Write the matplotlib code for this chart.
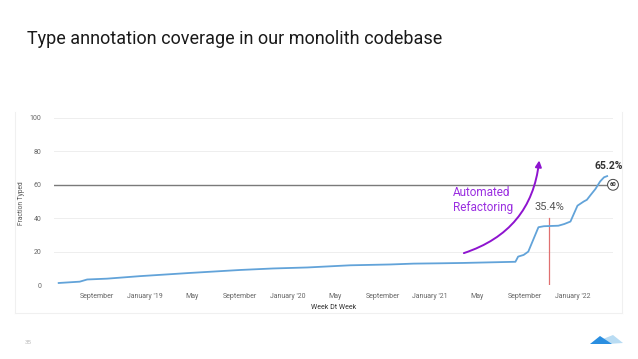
import matplotlib
matplotlib.use("Agg")
import matplotlib.pyplot as plt
import pandas as pd
from matplotlib.patches import Polygon
from matplotlib.lines import Line2D

plt.rcParams['font.family'] = ['Roboto', 'DejaVu Sans']

# ---- data ----
dates = ["2018-05-25", "2018-07-18", "2018-08-06", "2018-09-26", "2018-12-19",
         "2019-04-25", "2019-09-02", "2019-11-25", "2020-02-21", "2020-06-10",
         "2020-09-21", "2020-11-19", "2021-01-28", "2021-03-25", "2021-08-07",
         "2021-08-14", "2021-08-28", "2021-09-09", "2021-10-05", "2021-10-19",
         "2021-11-25", "2021-12-10", "2021-12-26", "2022-01-13", "2022-01-29",
         "2022-02-06", "2022-02-16", "2022-02-28", "2022-03-12", "2022-03-22",
         "2022-03-30"]
fraction = [1.2, 2.0, 3.3, 3.8, 5.3,
            7.2, 9.0, 9.9, 10.5, 11.8,
            12.3, 12.8, 13.0, 13.2, 13.9,
            17.0, 18.0, 20.0, 34.6, 35.2,
            35.5, 36.5, 38.0, 47.5, 50.0,
            51.0, 54.0, 57.5, 62.0, 64.5,
            65.2]
tick_dates = ["2018-09-01", "2019-01-01", "2019-05-01", "2019-09-01", "2020-01-01",
              "2020-05-01", "2020-09-01", "2021-01-01", "2021-05-01", "2021-09-01",
              "2022-01-01"]
tick_labels = ["September", "January '19", "May", "September", "January '20",
               "May", "September", "January '21", "May", "September", "January '22"]
y_ticks = [0, 20, 40, 60, 80, 100]
goal = 60
marker_date = "2021-11-01"
marker_value = 35.4
marker_height = 40
final_value = 65.2

W, H = 638, 359
fig = plt.figure(figsize=(W / 100, H / 100), dpi=100)
fig.patch.set_facecolor('white')

def fx(px):
    return px / W

def fy(py):
    return 1 - py / H

# chart frame (faint)
for seg in [((15, 15), (112, 313)), ((622, 622), (112, 313)), ((15, 622), (313, 313))]:
    fig.add_artist(Line2D([fx(seg[0][0]), fx(seg[0][1])], [fy(seg[1][0]), fy(seg[1][1])],
                          color='#f0f0f0', lw=0.8))

ax = fig.add_axes([fx(54), fy(285), fx(613) - fx(54), (285 - 118) / H])
d = pd.to_datetime(dates)
ax.plot(d, fraction, color='#62a3d9', lw=1.3, zorder=3, clip_on=False)

ax.set_xlim(pd.Timestamp("2018-05-13"), pd.Timestamp("2022-04-14"))
ax.set_ylim(0, 100)
for s in ax.spines.values():
    s.set_visible(False)
ax.set_yticks(y_ticks)
ax.set_yticklabels([str(v) for v in y_ticks])
ax.set_xticks(pd.to_datetime(tick_dates))
ax.set_xticklabels(tick_labels)
ax.tick_params(axis='both', length=0, labelsize=5, labelcolor='#666666')
ax.tick_params(axis='x', pad=6)
ax.tick_params(axis='y', pad=9)
for v in y_ticks:
    if v != goal:
        ax.axhline(v, color='#eeeeee', lw=0.7, zorder=1)
ax.axhline(goal, color='#7a7a7a', lw=1.0, zorder=2)

ax.set_xlabel("Week Dt Week", fontsize=5, color='#333333')
ax.xaxis.set_label_coords(0.5, -(304 - 285) / (285 - 118), transform=ax.transAxes)
ax.set_ylabel("Fraction Typed", fontsize=4.8, color='#555555')
ax.yaxis.set_label_coords(-(54 - 25) / (613 - 54), (285 - 203) / (285 - 118),
                          transform=ax.transAxes)

# red marker line and label
md = pd.Timestamp(marker_date)
ax.plot([md, md], [0, marker_height], color='#e07070', lw=0.9, zorder=2)
ax.text(md, 46.6, f"{marker_value}%", fontsize=8, color='#555555',
        ha='center', va='center')

# final value label
ax.text(pd.Timestamp("2022-04-04"), 71, f"{final_value}%", fontsize=7.5,
        fontweight='bold', color='#333333', ha='center', va='center')

# goal badge
ax.text(1.0, goal, str(goal), transform=ax.get_yaxis_transform(), fontsize=4.2,
        fontweight='bold', color='#333333', ha='center', va='center', zorder=5,
        bbox=dict(boxstyle='circle,pad=0.35', fc='white', ec='#444444', lw=0.7))

# automated refactoring annotation
ax.annotate("", xy=(pd.Timestamp("2021-10-07"), 74.6),
            xytext=(pd.Timestamp("2021-03-28"), 19.1),
            arrowprops=dict(arrowstyle='-|>', color='#8e14cf', lw=1.4,
                            mutation_scale=9, shrinkA=0, shrinkB=0,
                            connectionstyle='arc3,rad=0.32'))
fig.text(fx(453), fy(200), "Automated\nRefactoring", fontsize=8.5, color='#9a2ee0',
         ha='left', va='center', linespacing=1.15)

# title
fig.text(fx(27), fy(39), "Type annotation coverage in our monolith codebase",
         fontsize=13, color='#1a1a1a', ha='left', va='center')

# page number
fig.text(fx(25), fy(342), "35", fontsize=4.5, color='#bbbbbb', ha='left', va='center')

# logo
fig.add_artist(Polygon([[fx(603), fy(339)], [fx(613), fy(335)], [fx(623), fy(343)], [fx(608), fy(344)]],
                       closed=True, fc='#b9dcf3', ec='none'))
fig.add_artist(Polygon([[fx(590), fy(344)], [fx(600), fy(336)], [fx(612), fy(344)]],
                       closed=True, fc='#2a8ee0', ec='none'))

fig.savefig("out.png", dpi=100, facecolor='white')
